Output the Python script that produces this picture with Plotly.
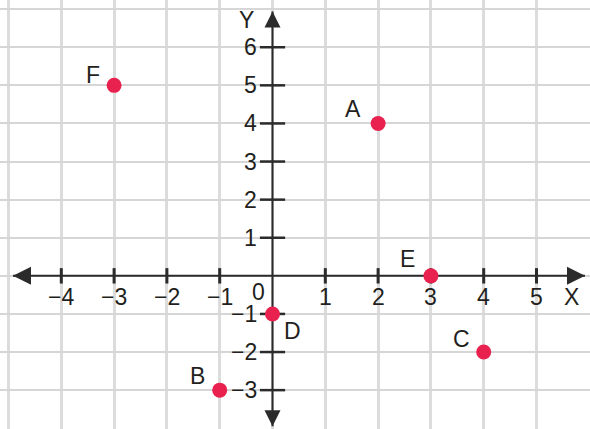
import plotly.graph_objects as go

# ---- data ----
point_names = ["A", "B", "C", "D", "E", "F"]
point_x = [2, -1, 4, 0, 3, -3]
point_y = [4, -3, -2, -1, 0, 5]
# label offsets (pixels) of each point's letter
label_dx = [-25, -22, -22, 20, -23, -21]
label_dy = [14, 14, 13, -17, 17, 10]

x_ticks = [-4, -3, -2, -1, 1, 2, 3, 4, 5]
x_tick_labels = ["−4", "−3", "−2", "−1", "1", "2", "3", "4", "5"]
y_ticks = [-3, -2, -1, 1, 2, 3, 4, 5, 6]
y_tick_labels = ["−3", "−2", "−1", "1", "2", "3", "4", "5", "6"]

x_axis_ends = [-4.915, 5.918]
y_axis_ends = [-3.95, 6.94]

AXIS = "#2b2b2b"
TEXT = "#231f20"
DOT = "#e8214f"
FONT = "Liberation Sans"
FS = 23

fig = go.Figure()

# axis lines
fig.add_trace(go.Scatter(x=x_axis_ends, y=[0, 0], mode="lines",
                         line=dict(color=AXIS, width=2), hoverinfo="skip"))
fig.add_trace(go.Scatter(x=[0, 0], y=y_axis_ends, mode="lines",
                         line=dict(color=AXIS, width=2), hoverinfo="skip"))
# arrowheads
fig.add_trace(go.Scatter(x=[x_axis_ends[0]], y=[0], mode="markers",
                         marker=dict(symbol="arrow-left", size=18, color=AXIS)))
fig.add_trace(go.Scatter(x=[x_axis_ends[1]], y=[0], mode="markers",
                         marker=dict(symbol="arrow-right", size=18, color=AXIS)))
fig.add_trace(go.Scatter(x=[0], y=[y_axis_ends[1]], mode="markers",
                         marker=dict(symbol="arrow-up", size=16, color=AXIS)))
fig.add_trace(go.Scatter(x=[0], y=[y_axis_ends[0]], mode="markers",
                         marker=dict(symbol="arrow-down", size=16, color=AXIS)))
# tick marks
fig.add_trace(go.Scatter(x=x_ticks, y=[0] * len(x_ticks), mode="markers",
                         marker=dict(symbol="line-ns", size=11,
                                     line=dict(color=AXIS, width=3))))
fig.add_trace(go.Scatter(x=[0] * len(y_ticks), y=y_ticks, mode="markers",
                         marker=dict(symbol="line-ew", size=18,
                                     line=dict(color=AXIS, width=2.5))))
# points
fig.add_trace(go.Scatter(x=point_x, y=point_y, mode="markers",
                         marker=dict(size=15, color=DOT)))

ann = []
for t, lab in zip(x_ticks, x_tick_labels):
    ann.append(dict(x=t, y=0, text=lab, showarrow=False, yshift=-21,
                    xanchor="center", yanchor="middle"))
for t, lab in zip(y_ticks, y_tick_labels):
    ann.append(dict(x=0, y=t, text=lab, showarrow=False, xshift=-14,
                    xanchor="right", yanchor="middle"))
ann.append(dict(x=0, y=0, text="0", showarrow=False, xshift=-14, yshift=-16,
                xanchor="center", yanchor="middle"))
ann.append(dict(x=x_axis_ends[1], y=0, text="X", showarrow=False,
                xshift=-13, yshift=-21, xanchor="center", yanchor="middle"))
ann.append(dict(x=0, y=y_axis_ends[1], text="Y", showarrow=False,
                xshift=-26, yshift=-9, xanchor="center", yanchor="middle"))
for n, px, py, dx, dy in zip(point_names, point_x, point_y, label_dx, label_dy):
    ann.append(dict(x=px, y=py, text=n, showarrow=False, xshift=dx, yshift=dy,
                    xanchor="center", yanchor="middle"))
for a in ann:
    a["font"] = dict(family=FONT, size=FS, color=TEXT)

fig.update_layout(
    width=590, height=429,
    margin=dict(l=0, r=0, t=0, b=0),
    paper_bgcolor="white", plot_bgcolor="white",
    showlegend=False,
    annotations=ann,
    xaxis=dict(range=[-5.161, 6.013], tick0=0, dtick=1, showticklabels=False,
               showgrid=True, gridcolor="#dcdcdc", gridwidth=3, zeroline=False,
               showline=False, ticks="", fixedrange=True),
    yaxis=dict(range=[-4.02, 7.24], tick0=0, dtick=1, showticklabels=False,
               showgrid=True, gridcolor="#d6d6d6", gridwidth=2, zeroline=False,
               showline=False, ticks="", fixedrange=True),
)

fig.write_html("out.html", config={"staticPlot": True},
               post_script="document.body.style.margin='0';"
                           "document.body.style.overflow='hidden';")
